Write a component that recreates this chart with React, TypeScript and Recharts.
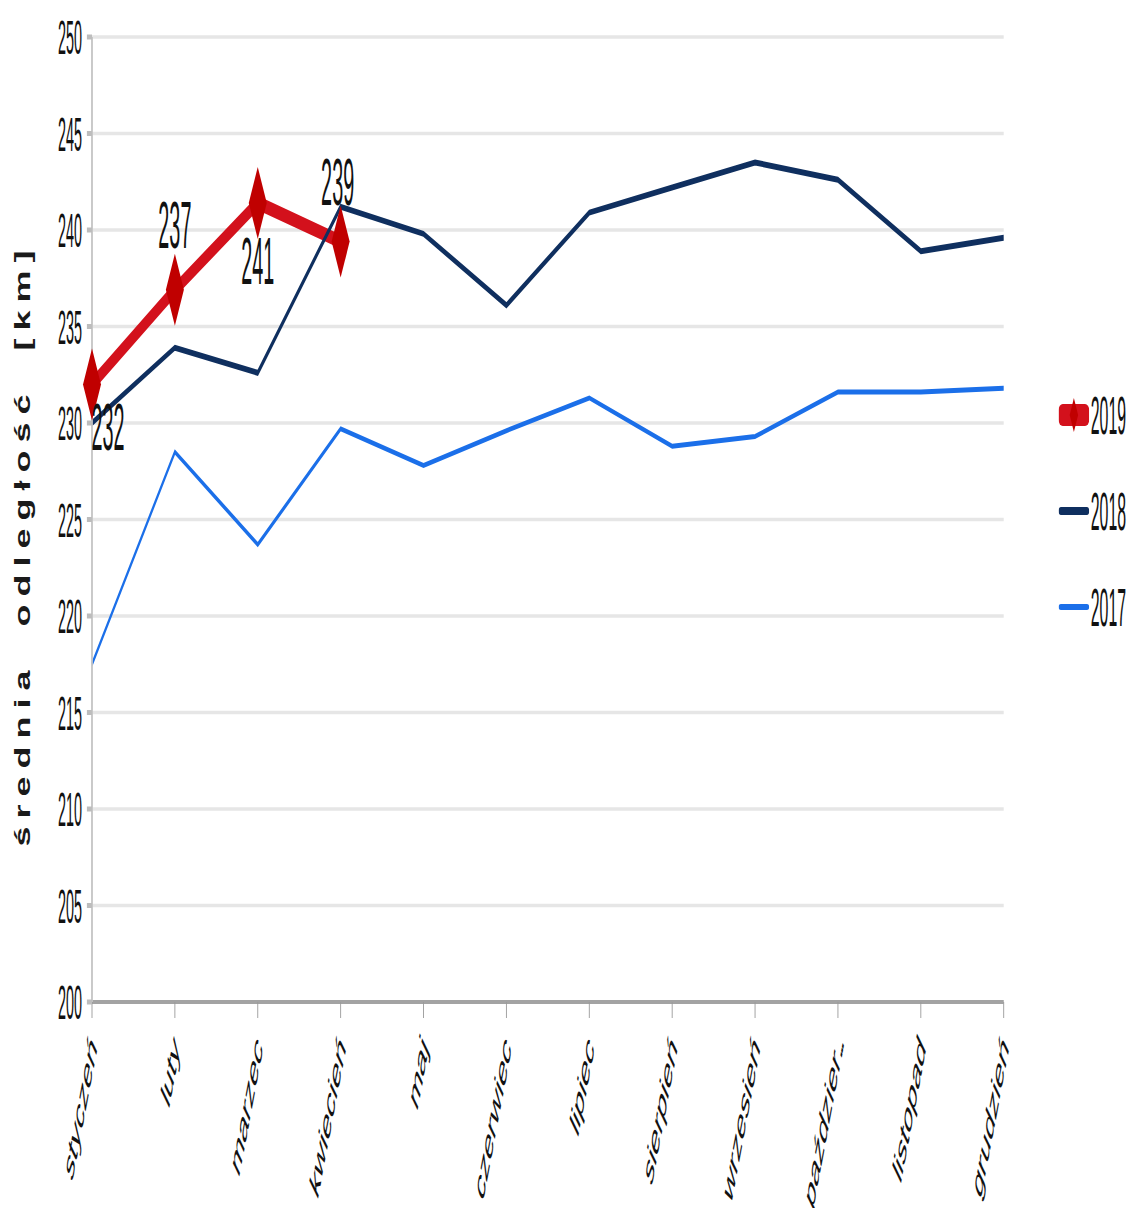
import React from 'react';
import { LineChart, Line, XAxis, YAxis, CartesianGrid, Legend, LabelList, Label } from 'recharts';

const months = ['styczeń', 'luty', 'marzec', 'kwiecień', 'maj', 'czerwiec', 'lipiec', 'sierpień', 'wrzesień', 'październik', 'listopad', 'grudzień'];
const values2019 = [232.0, 236.9, 241.4, 239.4];
const values2018 = [230.0, 233.9, 232.6, 241.2, 239.8, 236.1, 240.9, 242.2, 243.5, 242.6, 238.9, 239.6];
const values2017 = [217.5, 228.5, 223.7, 229.7, 227.8, 229.6, 231.3, 228.8, 229.3, 231.6, 231.6, 231.8];
const yTicks = [200, 205, 210, 215, 220, 225, 230, 235, 240, 245, 250];
const yLabelText = 'średnia  odległość  [km]';
const legendOrder = ['2019', '2018', '2017'];

const data = months.map((m, i) => ({
  month: m,
  y2019: values2019[i],
  y2018: values2018[i],
  y2017: values2017[i],
}));

// layout / style constants
const S = 0.3; // horizontal squash of the whole picture
const W = 3767;
const H = 1208;
const FONT = '"Liberation Sans", Arial, sans-serif';
const C2019 = '#d3111c';
const C2019D = '#c00000';
const C2018 = '#0f2f5f';
const C2017 = '#1b6fe9';

const labelPlacement = [
  { dx: 53, dy: 66 },
  { dx: 0, dy: -42 },
  { dx: 0, dy: 81 },
  { dx: -10, dy: -37 },
];

const legendStyle: Record<string, { color: string; h: number; diamond: boolean }> = {
  '2019': { color: C2019, h: 22, diamond: true },
  '2018': { color: C2018, h: 8, diamond: false },
  '2017': { color: C2017, h: 6, diamond: false },
};

const XTick = (props: any) => {
  const { x, y, payload } = props;
  const v: string = payload.value;
  const truncated = v.length > 9;
  const head = truncated ? v.slice(0, 8) : v;
  return (
    <g transform={`translate(${x + 4},${y + 20})`}>
      <text transform="rotate(-58)" textAnchor="end" dy="0.35em" fontSize={47} fontFamily={FONT} fill="#111">
        <tspan>{head}</tspan>
        {truncated && <tspan letterSpacing={-8}>...</tspan>}
      </text>
    </g>
  );
};

const YTick = (props: any) => {
  const { x, y, payload } = props;
  return (
    <text x={x - 14} y={y} dy="0.36em" textAnchor="end" fontSize={48} fontFamily={FONT} fill="#111">
      {payload.value}
    </text>
  );
};

const Diamond = (props: any) => {
  const { cx, cy, index } = props;
  if (cx == null || cy == null) return <g key={index} />;
  return (
    <polygon
      key={index}
      points={`${cx},${cy - 36} ${cx + 30},${cy} ${cx},${cy + 36} ${cx - 30},${cy}`}
      fill={C2019D}
    />
  );
};

const ValueLabel = (props: any) => {
  const { x, y, value, index } = props;
  if (value == null) return null;
  const p = labelPlacement[index] || { dx: 0, dy: -40 };
  return (
    <text x={x + p.dx} y={y + p.dy} textAnchor="middle" fontSize={66} fontFamily={FONT} fill="#111">
      {Math.round(value)}
    </text>
  );
};

const YAxisTitle = (props: any) => {
  const { viewBox } = props;
  const x = viewBox.x - 33;
  const y = viewBox.y + viewBox.height / 2 + 25;
  return (
    <text
      transform={`translate(${x},${y}) scale(${0.62 / S},1) rotate(-90)`}
      textAnchor="middle"
      dominantBaseline="central"
      fontSize={36}
      fontWeight="bold"
      letterSpacing={8}
      fontFamily={FONT}
      fill="#1a1a1a"
      style={{ whiteSpace: 'pre' }}
    >
      {yLabelText}
    </text>
  );
};

const renderLegend = (props: any) => {
  const payload: any[] = props.payload || [];
  const sorted = legendOrder
    .map((name) => payload.find((p) => p.value === name))
    .filter(Boolean);
  return (
    <div>
      {sorted.map((entry: any) => {
        const st = legendStyle[entry.value] || { color: entry.color, h: 6, diamond: false };
        return (
          <div key={entry.value} style={{ height: 96, display: 'flex', alignItems: 'center' }}>
            <svg width={102} height={60} style={{ display: 'block', flex: 'none' }}>
              <rect x={0} y={30 - st.h / 2} width={102} height={st.h} rx={st.diamond ? 14 : 8} ry={st.diamond ? 6 : st.h / 2} fill={st.color} />
              {st.diamond && <polygon points="51,13 65,30 51,47 37,30" fill={C2019D} />}
            </svg>
            <span style={{ fontFamily: FONT, fontSize: 53, color: '#111', marginLeft: 5, lineHeight: 1, whiteSpace: 'nowrap' }}>
              {entry.value}
            </span>
          </div>
        );
      })}
    </div>
  );
};

export default function App() {
  return (
    <div style={{ width: 1130, height: H, marginBottom: -8, overflow: 'hidden', position: 'relative', background: '#fff' }}>
      <div style={{ width: W, height: H, transform: `scaleX(${S})`, transformOrigin: '0 0' }}>
        <LineChart width={W} height={H} data={data} margin={{ top: 29, left: 80, right: 370, bottom: 34 }}>
          <CartesianGrid horizontal vertical={false} stroke="#e6e6e6" strokeWidth={3.5} />
          <XAxis
            dataKey="month"
            interval={0}
            height={180}
            tick={<XTick />}
            tickSize={16}
            tickLine={{ stroke: '#9a9a9a', strokeWidth: 3 }}
            axisLine={{ stroke: '#a3a3a3', strokeWidth: 4 }}
            padding={{ left: 0, right: 0 }}
          />
          <YAxis
            type="number"
            domain={[200, 250]}
            ticks={yTicks}
            interval={0}
            width={200}
            tick={<YTick />}
            tickSize={17}
            tickLine={{ stroke: '#bdbdbd', strokeWidth: 5 }}
            axisLine={{ stroke: '#c4c4c4', strokeWidth: 6 }}
          >
            <Label content={<YAxisTitle />} />
          </YAxis>
          <Legend
            layout="vertical"
            align="right"
            verticalAlign="top"
            wrapperStyle={{ left: 3502, top: 359, width: 260 }}
            content={renderLegend}
          />
          <Line
            name="2019"
            dataKey="y2019"
            stroke={C2019}
            strokeWidth={14}
            dot={<Diamond />}
            activeDot={false}
            isAnimationActive={false}
          >
            <LabelList dataKey="y2019" content={<ValueLabel />} />
          </Line>
          <Line
            name="2018"
            dataKey="y2018"
            stroke={C2018}
            strokeWidth={6}
            dot={false}
            activeDot={false}
            isAnimationActive={false}
          />
          <Line
            name="2017"
            dataKey="y2017"
            stroke={C2017}
            strokeWidth={5}
            dot={false}
            activeDot={false}
            isAnimationActive={false}
          />
        </LineChart>
      </div>
    </div>
  );
}
